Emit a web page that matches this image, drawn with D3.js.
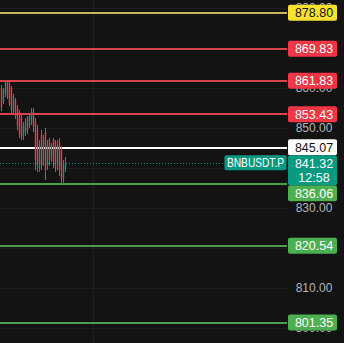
<!DOCTYPE html>
<html>
<head>
<meta charset="utf-8">
<script src="https://cdn.jsdelivr.net/npm/d3@7"></script>
<style>
  html, body { margin: 0; padding: 0; background: #131313; }
  svg { display: block; }
</style>
</head>
<body>
<div id="vis"></div>
<script>
const width = 344;
const height = 343;

// candles: open, high, low, close (BNBUSDT.P)
const opens  = [860.0, 856.5, 858.5, 861.75, 861.0, 860.0, 854.0, 857.0, 855.0, 854.0, 852.5, 848.0, 849.0, 852.5, 850.5, 851.5, 854.0, 851.5, 849.5, 840.0, 848.25, 842.0, 849.0, 840.75, 847.0, 842.5, 847.0, 846.5, 840.75, 846.5, 844.5, 837.5, 840.0];
const highs  = [860.75, 860.0, 862.0, 862.0, 861.5, 860.5, 858.5, 857.5, 855.75, 854.5, 853.25, 851.5, 852.5, 853.0, 853.75, 855.0, 855.0, 852.5, 850.75, 847.0, 849.5, 848.25, 850.0, 847.0, 847.5, 846.25, 847.5, 847.0, 847.0, 847.5, 845.5, 842.0, 842.75];
const lows   = [854.25, 856.0, 857.75, 857.25, 855.5, 853.75, 853.25, 852.25, 849.5, 847.5, 847.0, 847.0, 848.0, 848.5, 850.0, 850.75, 849.0, 839.5, 839.0, 839.0, 839.5, 840.5, 837.0, 839.5, 840.5, 841.5, 840.0, 839.0, 839.5, 838.0, 836.0, 836.0, 839.0];
const closes = [855.0, 859.5, 861.5, 857.75, 856.0, 854.5, 858.0, 853.0, 850.5, 848.5, 847.5, 850.5, 851.5, 849.5, 853.0, 854.0, 850.5, 842.0, 840.75, 845.75, 840.75, 847.0, 839.5, 845.75, 842.0, 845.75, 841.5, 840.0, 845.75, 839.5, 837.0, 840.75, 841.32];

// horizontal price levels
const levelPrices = [878.80, 869.83, 861.83, 853.43, 845.07, 836.06, 820.54, 801.35];
const levelKinds  = ["yellow", "red", "red", "red", "white", "green", "green", "green"];

// price axis ticks
const tickPrices = [880, 870, 860, 850, 840, 830, 820, 810, 800];
// vertical time grid (bar index)
const gridBars = [45.5];

const symbol = "BNBUSDT.P";
const lastPrice = 841.32;
const countdown = "12:58";

const styles = {
  yellow: { line: "#c9b65a", bg: "#f5e12f", fg: "#131313" },
  red:    { line: "#d9434e", bg: "#f23645", fg: "#ffffff" },
  white:  { line: "#ffffff", bg: "#ffffff", fg: "#131313" },
  green:  { line: "#4a9e4e", bg: "#4caf50", fg: "#ffffff" }
};
const upColor = "#089981";
const downColor = "#f23645";

const plotRight = 287;
const badgeX = 288, badgeW = 49, badgeH = 16;
const textX = 314;

const y = d3.scaleLinear().domain([850, 830]).range([128, 208]);
const x = d3.scaleLinear().domain([0, 32]).range([1.5, 65.5]);

const svg = d3.select("#vis").append("svg")
  .attr("width", width).attr("height", height)
  .style("font-family", "'Liberation Sans', Arial, sans-serif");

svg.append("rect").attr("width", width).attr("height", height).attr("fill", "#131313");

// grid
const grid = svg.append("g");
grid.selectAll(".hg").data(tickPrices).enter().append("line")
  .attr("x1", 0).attr("x2", plotRight)
  .attr("y1", d => Math.round(y(d)) + 0.5).attr("y2", d => Math.round(y(d)) + 0.5)
  .attr("stroke", "#1e1e1e").attr("stroke-width", 1);
grid.selectAll(".vg").data(gridBars).enter().append("line")
  .attr("x1", d => Math.round(x(d)) + 0.5).attr("x2", d => Math.round(x(d)) + 0.5)
  .attr("y1", 0).attr("y2", height)
  .attr("stroke", "#1e1e1e").attr("stroke-width", 1);

// tick labels
svg.append("g").selectAll("text").data(tickPrices).enter().append("text")
  .attr("x", textX).attr("y", d => y(d)).attr("dy", "0.36em")
  .attr("text-anchor", "middle").attr("font-size", 12).attr("fill", "#b2b5be")
  .text(d => d.toFixed(2));

// level lines
svg.append("g").selectAll("line").data(levelPrices).enter().append("line")
  .attr("x1", 0).attr("x2", plotRight)
  .attr("y1", d => Math.round(y(d))).attr("y2", d => Math.round(y(d)))
  .attr("stroke", (d, i) => styles[levelKinds[i]].line).attr("stroke-width", 2);

// last price dotted line
svg.append("line")
  .attr("x1", 0).attr("x2", plotRight)
  .attr("y1", Math.round(y(lastPrice)) + 0.5).attr("y2", Math.round(y(lastPrice)) + 0.5)
  .attr("stroke", upColor).attr("stroke-width", 1).attr("stroke-dasharray", "1,2");

// candles
const candles = opens.map((o, i) => ({ i, o, h: highs[i], l: lows[i], c: closes[i] }));
const candleColor = d => d.c >= d.o ? upColor : downColor;
const cg = svg.append("g").selectAll("g").data(candles).enter().append("g");
cg.append("line")
  .attr("x1", d => x(d.i)).attr("x2", d => x(d.i))
  .attr("y1", d => y(d.h)).attr("y2", d => y(d.l))
  .attr("stroke", candleColor).attr("stroke-width", 1);
cg.append("rect")
  .attr("x", d => x(d.i) - 0.7).attr("width", 1.4)
  .attr("y", d => y(Math.max(d.o, d.c)))
  .attr("height", d => Math.max(1, Math.abs(y(d.o) - y(d.c))))
  .attr("fill", candleColor);

// last price badge (fixed), others pushed away from it
const lastTop = y(lastPrice) - 7.5;
const lastBottom = lastTop + 30;
const badges = levelPrices.map((p, i) => {
  let top = y(p) - badgeH / 2;
  if (top < lastBottom && top + badgeH > lastTop) {
    if (y(p) > y(lastPrice)) top = lastBottom;
    else top = lastTop - badgeH;
  }
  return { p, top, st: styles[levelKinds[i]] };
});

const bg = svg.append("g").selectAll("g").data(badges).enter().append("g");
bg.append("rect")
  .attr("x", badgeX).attr("y", d => d.top).attr("width", badgeW).attr("height", badgeH)
  .attr("rx", 2).attr("fill", d => d.st.bg);
bg.append("text")
  .attr("x", textX).attr("y", d => d.top + badgeH / 2).attr("dy", "0.36em")
  .attr("text-anchor", "middle").attr("font-size", 12.5).attr("fill", d => d.st.fg)
  .text(d => d.p.toFixed(2));

svg.append("rect")
  .attr("x", badgeX).attr("y", lastTop).attr("width", badgeW).attr("height", 30)
  .attr("rx", 2).attr("fill", upColor);
svg.append("text")
  .attr("x", textX).attr("y", lastTop + 8).attr("dy", "0.36em")
  .attr("text-anchor", "middle").attr("font-size", 12.5).attr("fill", "#ffffff")
  .text(lastPrice.toFixed(2));
svg.append("text")
  .attr("x", textX).attr("y", lastTop + 22).attr("dy", "0.36em")
  .attr("text-anchor", "middle").attr("font-size", 12.5).attr("fill", "#ffffff")
  .text(countdown);

// symbol label
svg.append("rect")
  .attr("x", 224.5).attr("y", lastTop).attr("width", 62).attr("height", 15)
  .attr("rx", 2).attr("fill", upColor);
svg.append("text")
  .attr("x", 255.5).attr("y", lastTop + 7.5).attr("dy", "0.36em")
  .attr("text-anchor", "middle").attr("font-size", 12).attr("fill", "#ffffff")
  .attr("textLength", 57).attr("lengthAdjust", "spacingAndGlyphs")
  .text(symbol);
</script>
</body>
</html>
